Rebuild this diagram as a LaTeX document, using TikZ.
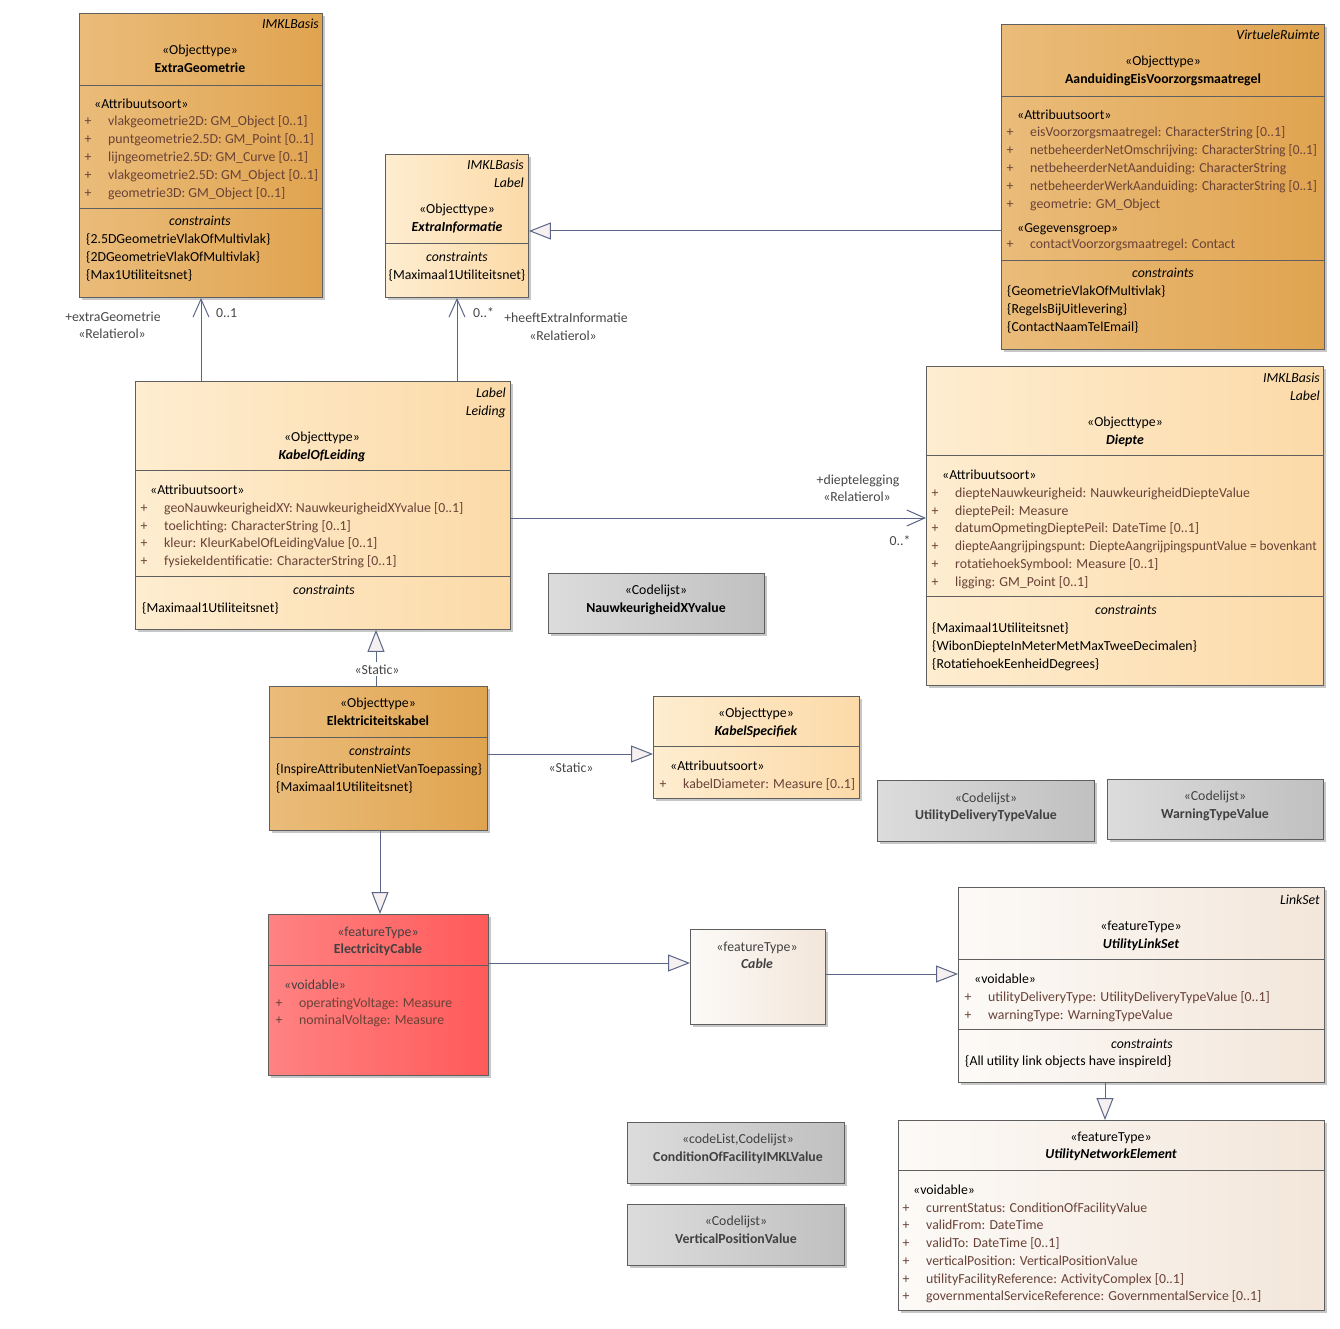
\documentclass[tikz,border=0pt]{standalone}
\usepackage{fontspec}
\usepackage{graphicx}
\setmainfont{Carlito}
\usetikzlibrary{arrows.meta,shadows}
\definecolor{orL}{RGB}{234,188,122}
\definecolor{orR}{RGB}{224,164,80}
\definecolor{ltL}{RGB}{254,237,208}
\definecolor{ltR}{RGB}{252,218,168}
\definecolor{grL}{RGB}{220,220,220}
\definecolor{grR}{RGB}{192,192,192}
\definecolor{rdL}{RGB}{255,130,130}
\definecolor{rdR}{RGB}{255,90,90}
\definecolor{vlL}{RGB}{252,250,247}
\definecolor{vlR}{RGB}{243,230,218}
\definecolor{bordercol}{RGB}{95,95,95}
\definecolor{linecol}{RGB}{90,102,135}
\definecolor{trifill}{RGB}{246,240,240}
\definecolor{attrcol}{RGB}{105,66,55}
\definecolor{labcol}{RGB}{70,70,70}
\definecolor{inspcol}{RGB}{65,65,65}
\tikzset{
  box/.style={draw=bordercol, line width=0.9pt, inner sep=0pt, anchor=north west,
    drop shadow={shadow xshift=3pt, shadow yshift=-3pt, fill=black, opacity=0.22}},
  orbox/.style={box, left color=orL, right color=orR},
  ltbox/.style={box, left color=ltL, right color=ltR},
  grbox/.style={box, left color=grL, right color=grR},
  rdbox/.style={box, left color=rdL, right color=rdR},
  vlbox/.style={box, left color=vlL, right color=vlR},
  divline/.style={draw=bordercol, line width=0.9pt},
  lt/.style={anchor=west, inner sep=0pt, text height=12pt, text depth=2pt},
  ct/.style={anchor=center, inner sep=0pt, text height=12pt, text depth=2pt},
  rt/.style={anchor=east, inner sep=0pt, text height=12pt, text depth=2pt, font=\fontsize{13.8}{16}\selectfont\itshape},
  pluss/.style={anchor=center, inner sep=0pt, text height=12pt, text depth=2pt, text=attrcol},
  attr/.style={text=attrcol},
  lab/.style={text=labcol},
  insp/.style={text=inspcol},
  assoc/.style={draw=linecol, line width=1pt, -{Straight Barb[length=18pt, width=16pt, line width=1pt]}},
  gen/.style={draw=linecol, line width=1pt, -{Triangle[length=22pt, width=17pt, fill=trifill, line width=1pt]}},
}
\newcommand\txl[4]{\node[lt] (#1) at (#2,-#3) {#4};}
\newcommand\txc[4]{\node[ct] (#1) at (#2,-#3) {#4};}
\newcommand\txr[4]{\node[rt] (#1) at (#2,-#3) {#4};}
\newcommand\txa[4]{\node[pluss] (#1p) at (#2,-#3) {+};\node[lt,attr] (#1) at (#2+20,-#3) {#4};}
\newcommand\umlbox[6]{\node[#6, minimum width=#4-#2, minimum height=#5-#3] (#1) at (#2,-#3) {};}
\newcommand\divider[2]{\draw[divline] (#1.west |- 0,-#2) -- (#1.east |- 0,-#2);}
\begin{document}
\begin{tikzpicture}[x=1pt, y=1pt, font=\fontsize{13.8}{16}\selectfont]
\useasboundingbox (0,0) rectangle (1340,-1329);
% ---------- boxes ----------
\umlbox{eg}{79}{13}{322}{297}{orbox}
\umlbox{ei}{385}{154}{528}{297}{ltbox}
\umlbox{ae}{1001}{24}{1324}{349}{orbox}
\umlbox{kl}{135}{381}{510}{629}{ltbox}
\umlbox{dp}{926}{366}{1323}{685}{ltbox}
\umlbox{nx}{548}{573}{764}{633}{grbox}
\umlbox{ek}{269}{686}{487}{830}{orbox}
\umlbox{ks}{653}{696}{859}{798}{ltbox}
\umlbox{ud}{877}{780}{1094}{841}{grbox}
\umlbox{wt}{1107}{779}{1323}{839}{grbox}
\umlbox{ec}{268}{914}{488}{1075}{rdbox}
\umlbox{cb}{690}{929}{825}{1024}{vlbox}
\umlbox{uls}{958}{887}{1324}{1082}{vlbox}
\umlbox{cf}{627}{1122}{844}{1183}{grbox}
\umlbox{vp}{627}{1204}{844}{1265}{grbox}
\umlbox{une}{898}{1120}{1324}{1310}{vlbox}
% ---------- dividers ----------
\divider{eg}{85}\divider{eg}{208}
\divider{ei}{243}
\divider{ae}{96}\divider{ae}{260}
\divider{kl}{470}\divider{kl}{576}
\divider{dp}{455}\divider{dp}{596}
\divider{ek}{737}
\divider{ks}{746}
\divider{ec}{965}
\divider{uls}{959}\divider{uls}{1029}
\divider{une}{1170}
% ---------- ExtraGeometrie ----------
\txr{egpk}{319}{24}{IMKLBasis}
\txc{egst}{200}{50}{«Objecttype»}
\txc{egnm}{200}{68}{\bfseries ExtraGeometrie}
\txl{egas}{94}{104}{«Attribuutsoort»}
\txa{ega1}{88}{121}{vlakgeometrie2D: GM\_Object [0..1]}
\txa{ega2}{88}{139}{puntgeometrie2.5D: GM\_Point [0..1]}
\txa{ega3}{88}{157}{lijngeometrie2.5D: GM\_Curve [0..1]}
\txa{ega4}{88}{175}{vlakgeometrie2.5D: GM\_Object [0..1]}
\txa{ega5}{88}{193}{geometrie3D: GM\_Object [0..1]}
\txc{egcs}{200}{221}{\itshape constraints}
\txl{egc1}{86}{239}{\{2.5DGeometrieVlakOfMultivlak\}}
\txl{egc2}{86}{257}{\{2DGeometrieVlakOfMultivlak\}}
\txl{egc3}{86}{275}{\{Max1Utiliteitsnet\}}
% ---------- ExtraInformatie ----------
\txr{eipk}{524}{165}{IMKLBasis}
\txr{eipl}{524}{183}{Label}
\txc{eist}{457}{209}{«Objecttype»}
\txc{einm}{457}{227}{\bfseries\itshape ExtraInformatie}
\txc{eics}{457}{257}{\itshape constraints}
\txc{eic1}{457}{275}{\{Maximaal1Utiliteitsnet\}}
% ---------- AanduidingEisVoorzorgsmaatregel ----------
\txr{aepk}{1320}{35}{VirtueleRuimte}
\txc{aest}{1163}{61}{«Objecttype»}
\txc{aenm}{1163}{79}{\bfseries AanduidingEisVoorzorgsmaatregel}
\txl{aeas}{1017}{115}{«Attribuutsoort»}
\txa{aea1}{1010}{132}{eisVoorzorgsmaatregel: CharacterString [0..1]}
\txa{aea2}{1010}{150}{\scalebox{0.962}[1]{netbeheerderNetOmschrijving: CharacterString [0..1]}}
\txa{aea3}{1010}{168}{netbeheerderNetAanduiding: CharacterString}
\txa{aea4}{1010}{186}{\scalebox{0.962}[1]{netbeheerderWerkAanduiding: CharacterString [0..1]}}
\txa{aea5}{1010}{204}{geometrie: GM\_Object}
\txl{aegg}{1017}{228}{«Gegevensgroep»}
\txa{aea6}{1010}{244}{contactVoorzorgsmaatregel: Contact}
\txc{aecs}{1163}{273}{\itshape constraints}
\txl{aec1}{1007}{291}{\{GeometrieVlakOfMultivlak\}}
\txl{aec2}{1007}{309}{\{RegelsBijUitlevering\}}
\txl{aec3}{1007}{326}{\{ContactNaamTelEmail\}}
% ---------- KabelOfLeiding ----------
\txr{klpk}{506}{392}{Label}
\txr{klpl}{506}{410}{Leiding}
\txc{klst}{322}{436}{«Objecttype»}
\txc{klnm}{322}{454}{\bfseries\itshape KabelOfLeiding}
\txl{klas}{150}{489}{«Attribuutsoort»}
\txa{kla1}{144}{507}{geoNauwkeurigheidXY: NauwkeurigheidXYvalue [0..1]}
\txa{kla2}{144}{525}{toelichting: CharacterString [0..1]}
\txa{kla3}{144}{542}{kleur: KleurKabelOfLeidingValue [0..1]}
\txa{kla4}{144}{560}{fysiekeIdentificatie: CharacterString [0..1]}
\txc{klcs}{324}{589}{\itshape constraints}
\txl{klc1}{142}{607}{\{Maximaal1Utiliteitsnet\}}
% ---------- Diepte ----------
\txr{dppk}{1320}{377}{IMKLBasis}
\txr{dppl}{1320}{395}{Label}
\txc{dpst}{1125}{421}{«Objecttype»}
\txc{dpnm}{1125}{439}{\bfseries\itshape Diepte}
\txl{dpas}{942}{474}{«Attribuutsoort»}
\txa{dpa1}{935}{492}{diepteNauwkeurigheid: NauwkeurigheidDiepteValue}
\txa{dpa2}{935}{510}{dieptePeil: Measure}
\txa{dpa3}{935}{527}{datumOpmetingDieptePeil: DateTime [0..1]}
\txa{dpa4}{935}{545}{\scalebox{0.965}[1]{diepteAangrijpingspunt: DiepteAangrijpingspuntValue = bovenkant}}
\txa{dpa5}{935}{563}{rotatiehoekSymbool: Measure [0..1]}
\txa{dpa6}{935}{581}{ligging: GM\_Point [0..1]}
\txc{dpcs}{1126}{609}{\itshape constraints}
\txl{dpc1}{932}{627}{\{Maximaal1Utiliteitsnet\}}
\txl{dpc2}{932}{645}{\{WibonDiepteInMeterMetMaxTweeDecimalen\}}
\txl{dpc3}{932}{663}{\{RotatiehoekEenheidDegrees\}}
% ---------- NauwkeurigheidXYvalue ----------
\txc{nxst}{656}{589}{«Codelijst»}
\txc{nxnm}{656}{607}{\bfseries NauwkeurigheidXYvalue}
% ---------- Elektriciteitskabel ----------
\txc{ekst}{378}{702}{«Objecttype»}
\txc{eknm}{378}{720}{\bfseries Elektriciteitskabel}
\txc{ekcs}{380}{750}{\itshape constraints}
\txl{ekc1}{276}{768}{\scalebox{0.98}[1]{\{InspireAttributenNietVanToepassing\}}}
\txl{ekc2}{276}{786}{\{Maximaal1Utiliteitsnet\}}
% ---------- KabelSpecifiek ----------
\txc{ksst}{756}{712}{«Objecttype»}
\txc{ksnm}{756}{730}{\bfseries\itshape KabelSpecifiek}
\txl{ksas}{670}{765}{«Attribuutsoort»}
\txa{ksa1}{663}{783}{kabelDiameter: Measure [0..1]}
% ---------- code lists ----------
\txc{udst}{986}{797}{\color{inspcol}«Codelijst»}
\txc{udnm}{986}{814}{\color{inspcol}\bfseries UtilityDeliveryTypeValue}
\txc{wtst}{1215}{795}{\color{inspcol}«Codelijst»}
\txc{wtnm}{1215}{813}{\color{inspcol}\bfseries WarningTypeValue}
\txc{cfst}{738}{1138}{\color{inspcol}«codeList,Codelijst»}
\txc{cfnm}{738}{1156}{\color{inspcol}\bfseries ConditionOfFacilityIMKLValue}
\txc{vpst}{736}{1220}{\color{inspcol}«Codelijst»}
\txc{vpnm}{736}{1238}{\color{inspcol}\bfseries VerticalPositionValue}
% ---------- ElectricityCable ----------
\txc{ecst}{378}{931}{\color{inspcol}«featureType»}
\txc{ecnm}{378}{948}{\color{inspcol}\bfseries ElectricityCable}
\txl{ecvd}{284}{984}{\color{inspcol}«voidable»}
\txa{eca1}{279}{1002}{operatingVoltage: Measure}
\txa{eca2}{279}{1019}{nominalVoltage: Measure}
% ---------- Cable ----------
\txc{cbst}{757}{946}{\color{inspcol}«featureType»}
\txc{cbnm}{757}{963}{\color{inspcol}\bfseries\itshape Cable}
% ---------- UtilityLinkSet ----------
\txr{ulspk}{1320}{899}{LinkSet}
\txc{ulsst}{1141}{925}{«featureType»}
\txc{ulsnm}{1141}{943}{\bfseries\itshape UtilityLinkSet}
\txl{ulsvd}{974}{978}{«voidable»}
\txa{ulsa1}{968}{996}{utilityDeliveryType: UtilityDeliveryTypeValue [0..1]}
\txa{ulsa2}{968}{1014}{warningType: WarningTypeValue}
\txc{ulscs}{1142}{1043}{\itshape constraints}
\txl{ulsc1}{965}{1060}{\{All utility link objects have inspireId\}}
% ---------- UtilityNetworkElement ----------
\txc{unest}{1111}{1136}{«featureType»}
\txc{unenm}{1111}{1153}{\bfseries\itshape UtilityNetworkElement}
\txl{unevd}{913}{1189}{«voidable»}
\txa{unea1}{906}{1207}{currentStatus: ConditionOfFacilityValue}
\txa{unea2}{906}{1224}{validFrom: DateTime}
\txa{unea3}{906}{1242}{validTo: DateTime [0..1]}
\txa{unea4}{906}{1260}{verticalPosition: VerticalPositionValue}
\txa{unea5}{906}{1278}{utilityFacilityReference: ActivityComplex [0..1]}
\txa{unea6}{906}{1295}{governmentalServiceReference: GovernmentalService [0..1]}
% ---------- connectors ----------
\draw[assoc] (201,0 |- kl.north) -- (201,0 |- eg.south);
\draw[assoc] (457,0 |- kl.north) -- (457,0 |- ei.south);
\draw[gen] (0,-231 -| ae.west) -- (0,-231 -| ei.east);
\draw[assoc] (0,-518 -| kl.east) -- (0,-518 -| dp.west);
\draw[gen] (376,0 |- ek.north) -- (376,0 |- kl.south);
\draw[gen] (0,-754 -| ek.east) -- (0,-754 -| ks.west);
\draw[gen] (380,0 |- ek.south) -- (380,0 |- ec.north);
\draw[gen] (0,-963 -| ec.east) -- (0,-963 -| cb.west);
\draw[gen] (0,-974 -| cb.east) -- (0,-974 -| uls.west);
\draw[gen] (1105,0 |- uls.south) -- (1105,0 |- une.north);
% ---------- connector labels ----------
\node[ct,lab] (l1) at (113,-316) {+extraGeometrie};
\node[ct,lab] (l2) at (112,-333) {«Relatierol»};
\node[lt,lab] (l3) at (216,-313) {0..1};
\node[lt,lab] (l4) at (473,-313) {0..*};
\node[ct,lab] (l5) at (566,-318) {+heeftExtraInformatie};
\node[ct,lab] (l6) at (563,-336) {«Relatierol»};
\node[ct,lab] (l7) at (858,-479) {+dieptelegging};
\node[ct,lab] (l8) at (857,-496) {«Relatierol»};
\node[ct,lab] (l9) at (900,-540) {0..*};
\node[ct,lab,fill=white,inner xsep=1pt] (l10) at (377,-669) {«Static»};
\node[ct,lab] (l11) at (571,-767) {«Static»};
\end{tikzpicture}
\end{document}
